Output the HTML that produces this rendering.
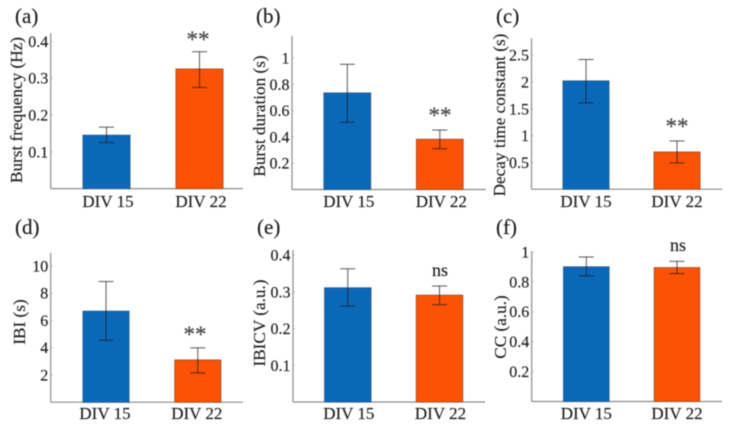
<!DOCTYPE html>
<html lang="en">
<head>
<meta charset="utf-8">
<title>Burst metrics, DIV 15 vs DIV 22</title>
<style>
html,body{margin:0;padding:0;background:#fff;width:730px;height:427px;overflow:hidden}
svg{display:block;filter:blur(0.4px)}
text{font-family:"Liberation Serif","Times New Roman",serif;fill:#1c1c1c;stroke:#1c1c1c;stroke-width:0.15px}
</style>
</head>
<body>
<svg id="figure" width="730" height="427" viewBox="0 0 730 427" xmlns="http://www.w3.org/2000/svg"></svg>
<script>
// ---- data ----
const categories = ['DIV 15', 'DIV 22'];

const burstFrequencyMeans = [0.145, 0.325];
const burstFrequencyHigh = [0.167, 0.372];
const burstFrequencyLow = [0.125, 0.275];
const burstFrequencyTicks = ['0.1', '0.2', '0.3', '0.4'];

const burstDurationMeans = [0.734, 0.382];
const burstDurationHigh = [0.952, 0.452];
const burstDurationLow = [0.511, 0.31];
const burstDurationTicks = ['0.2', '0.4', '0.6', '0.8', '1'];

const decayMeans = [2.02, 0.694];
const decayHigh = [2.42, 0.9];
const decayLow = [1.61, 0.49];
const decayTicks = ['0.5', '1', '1.5', '2', '2.5'];

const ibiMeans = [6.68, 3.1];
const ibiHigh = [8.86, 3.99];
const ibiLow = [4.55, 2.15];
const ibiTicks = ['2', '4', '6', '8', '10'];

const ibicvMeans = [0.311, 0.291];
const ibicvHigh = [0.363, 0.316];
const ibicvLow = [0.261, 0.265];
const ibicvTicks = ['0.1', '0.2', '0.3', '0.4'];

const ccMeans = [0.9, 0.895];
const ccHigh = [0.966, 0.937];
const ccLow = [0.84, 0.855];
const ccTicks = ['0.2', '0.4', '0.6', '0.8', '1'];

// ---- drawing ----
const NS = 'http://www.w3.org/2000/svg';
const figure = document.getElementById('figure');
const barFills = ['#0b68b9', '#fb5205'];
const barEdges = ['#2a5f8f', '#a8552a'];

function make(parent, tag, name, props, content) {
  const el = document.createElementNS(NS, tag);
  
  
  for (const key in props) el.setAttribute(key, props[key]);
  if (content !== undefined) el.textContent = content;
  parent.appendChild(el);
  return el;
}

function drawPanel(p) {
  const g = make(figure, 'g', 'panel-' + p.id, {});
  const y = v => p.bottom - v * p.unit;
  const x = i => p.center + i * p.step;

  make(g, 'text', 'panel-label', {x: p.labelX, y: p.labelY, 'font-size': 21}, '(' + p.id + ')');

  make(g, 'line', 'y-axis', {x1: p.left, x2: p.left, y1: p.top, y2: p.bottom, stroke: '#8c8c8c', 'stroke-width': 1.2});
  make(g, 'line', 'x-axis', {x1: p.left, x2: p.right, y1: p.bottom, y2: p.bottom, stroke: '#8c8c8c', 'stroke-width': 1.2});

  p.ticks.forEach(t => {
    make(g, 'line', 'y-tick-mark', {x1: p.left, x2: p.left + 2, y1: y(+t), y2: y(+t), stroke: '#aaa', 'stroke-width': 0.8});
    make(g, 'text', 'y-tick-label', {x: p.left - 2.5, y: y(+t) + 5.5, 'font-size': 16, 'text-anchor': 'end'}, t);
  });

  make(g, 'text', 'y-axis-title', {
    x: 0, y: 0, 'font-size': p.titleSize, 'text-anchor': 'middle',
    transform: 'translate(' + p.titleX + ' ' + p.titleY + ') rotate(-90)'
  }, p.title);

  categories.forEach((c, i) => {
    make(g, 'rect', 'bar-' + c.toLowerCase().replace(' ', '-'), {
      x: x(i) - p.barWidth / 2, y: y(p.means[i]),
      width: p.barWidth, height: p.bottom - y(p.means[i]),
      fill: barFills[i], stroke: barEdges[i], 'stroke-width': 1
    });
    const err = 'rgba(25,25,25,0.72)';
    make(g, 'line', 'error-bar-stem', {x1: x(i), x2: x(i), y1: y(p.high[i]), y2: y(p.low[i]), stroke: err, 'stroke-width': 1});
    make(g, 'line', 'error-bar-cap-high', {x1: x(i) - 7.5, x2: x(i) + 7.5, y1: y(p.high[i]), y2: y(p.high[i]), stroke: err, 'stroke-width': 1});
    make(g, 'line', 'error-bar-cap-low', {x1: x(i) - 7.5, x2: x(i) + 7.5, y1: y(p.low[i]), y2: y(p.low[i]), stroke: err, 'stroke-width': 1});
    make(g, 'text', 'x-tick-label', {x: x(i) + p.catShift, y: p.catY, 'font-size': 17, 'text-anchor': 'middle'}, c);
  });

  const starred = p.mark === '**';
  const mark = make(g, 'text', starred ? 'significance-stars' : 'not-significant-label', {
    x: p.markX, y: p.markY, 'font-size': starred ? 23 : 18, 'text-anchor': 'middle'
  }, p.mark);
  if (starred) {
    mark.style.fill = '#4a4a4a';
    mark.style.stroke = '#4a4a4a';
    mark.style.strokeWidth = '0.25px';
  }
}

drawPanel({id: 'a', title: 'Burst frequency (Hz)', titleSize: 17.2, titleX: 22, titleY: 110,
  means: burstFrequencyMeans, high: burstFrequencyHigh, low: burstFrequencyLow, ticks: burstFrequencyTicks,
  left: 50.7, right: 243, top: 33, bottom: 188.6, unit: 368,
  center: 106.5, step: 93, barWidth: 47, catShift: 1.5, catY: 207,
  labelX: 15, labelY: 23, mark: '**', markX: 198, markY: 47});

drawPanel({id: 'b', title: 'Burst duration (s)', titleSize: 17.2, titleX: 265, titleY: 116,
  means: burstDurationMeans, high: burstDurationHigh, low: burstDurationLow, ticks: burstDurationTicks,
  left: 292, right: 485.7, top: 36, bottom: 189.5, unit: 131.5,
  center: 347.3, step: 92.5, barWidth: 46.7, catShift: 1.5, catY: 207,
  labelX: 256, labelY: 23, mark: '**', markX: 440, markY: 123});

drawPanel({id: 'c', title: 'Decay time constant (s)', titleSize: 17.2, titleX: 505, titleY: 115,
  means: decayMeans, high: decayHigh, low: decayLow, ticks: decayTicks,
  left: 531.5, right: 722.3, top: 38.3, bottom: 189.2, unit: 53.6,
  center: 586, step: 91, barWidth: 46, catShift: 0, catY: 207,
  labelX: 496, labelY: 23, mark: '**', markX: 677, markY: 134});

drawPanel({id: 'd', title: 'IBI (s)', titleSize: 17.2, titleX: 25, titleY: 322,
  means: ibiMeans, high: ibiHigh, low: ibiLow, ticks: ibiTicks,
  left: 50.7, right: 243, top: 252.7, bottom: 402.2, unit: 13.62,
  center: 106, step: 91.8, barWidth: 46, catShift: -1, catY: 419,
  labelX: 15, labelY: 234, mark: '**', markX: 195, markY: 342});

drawPanel({id: 'e', title: 'IBICV (a.u.)', titleSize: 17.2, titleX: 265, titleY: 323,
  means: ibicvMeans, high: ibicvHigh, low: ibicvLow, ticks: ibicvTicks,
  left: 293, right: 485, top: 250, bottom: 402, unit: 367,
  center: 347.8, step: 91.7, barWidth: 46.4, catShift: 1, catY: 419,
  labelX: 257, labelY: 234, mark: 'ns', markX: 440, markY: 276});

drawPanel({id: 'f', title: 'CC (a.u.)', titleSize: 17.2, titleX: 506, titleY: 327,
  means: ccMeans, high: ccHigh, low: ccLow, ticks: ccTicks,
  left: 531.7, right: 722, top: 251.3, bottom: 401.5, unit: 149.6,
  center: 586.3, step: 90.7, barWidth: 45.5, catShift: 0, catY: 419,
  labelX: 496, labelY: 234, mark: 'ns', markX: 678, markY: 251});
</script>
</body>
</html>
